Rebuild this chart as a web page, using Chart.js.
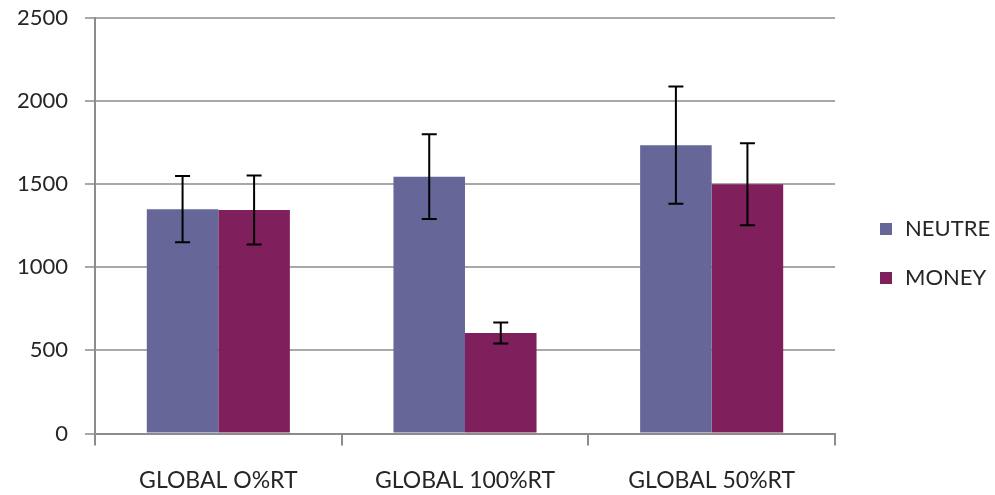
<!DOCTYPE html>
<html>
<head>
<meta charset="utf-8">
<script src="https://cdn.jsdelivr.net/npm/chart.js@4/dist/chart.umd.min.js"></script>
<style>
  body { margin: 0; background: #fff; }
  #wrap { position: relative; width: 995px; height: 495px; }
  #legend { position: absolute; left: 880px; top: 216px; font-family: Lato, "Open Sans", sans-serif; font-size: 22px; line-height: 24px; color: #262626; }
  #legend div { height: 49px; white-space: nowrap; }
  #legend span.sw { display: inline-block; width: 12px; height: 12px; margin-right: 13px; vertical-align: 1px; }
</style>
</head>
<body>
<div id="wrap">
  <canvas id="chart" width="995" height="495"></canvas>
  <div id="legend"></div>
</div>
<script>
// categories and series
var categories = ['GLOBAL O%RT', 'GLOBAL 100%RT', 'GLOBAL 50%RT'];
var neutreValues = [1350, 1545, 1735];
var neutreErrors = [200, 255, 353];
var moneyValues = [1345, 605, 1500];
var moneyErrors = [208, 63, 247];
var yTicks = [0, 500, 1000, 1500, 2000, 2500];

var colors = { neutre: '#666699', money: '#7f1f5b' };

// draw error bars from the scale
var errorBars = {
    id: 'errorBars',
    afterDatasetsDraw: function(chart) {
        var ctx = chart.ctx;
        var y = chart.scales.y;
        ctx.save();
        ctx.strokeStyle = '#000';
        ctx.lineWidth = 2;
        chart.data.datasets.forEach(function(ds, i) {
            var meta = chart.getDatasetMeta(i);
            meta.data.forEach(function(bar, j) {
                var v = ds.data[j], e = ds.errors[j];
                var top = y.getPixelForValue(v + e);
                var bot = y.getPixelForValue(v - e);
                var x = bar.x;
                ctx.beginPath();
                ctx.moveTo(x, top); ctx.lineTo(x, bot);
                ctx.moveTo(x - 7.5, top); ctx.lineTo(x + 7.5, top);
                ctx.moveTo(x - 7.5, bot); ctx.lineTo(x + 7.5, bot);
                ctx.stroke();
            });
        });
        ctx.restore();
    }
};

var ctx = document.getElementById('chart').getContext('2d');
var chart = new Chart(ctx, {
    type: 'bar',
    data: {
        labels: categories,
        datasets: [{
            label: 'NEUTRE',
            data: neutreValues,
            errors: neutreErrors,
            backgroundColor: colors.neutre
        }, {
            label: 'MONEY',
            data: moneyValues,
            errors: moneyErrors,
            backgroundColor: colors.money
        }]
    },
    options: {
        responsive: false,
        animation: false,
        devicePixelRatio: 1,
        categoryPercentage: 0.58,
        barPercentage: 1,
        layout: { padding: { left: 0, right: 160, top: 18, bottom: 0 } },
        plugins: {
            legend: { display: false },
            tooltip: { enabled: false }
        },
        scales: {
            x: {
                grid: { drawOnChartArea: false, drawTicks: true, tickLength: 12, color: '#8c8c8c', lineWidth: 2 },
                border: { color: '#8c8c8c', width: 2 },
                ticks: { padding: 21, color: '#262626', maxRotation: 0, font: { family: 'Lato', size: 23 } },
                afterFit: function(scale) { scale.height = 61.5; }
            },
            y: {
                min: 0,
                max: 2500,
                afterBuildTicks: function(scale) {
                    scale.ticks = yTicks.map(function(v) { return { value: v }; });
                },
                grid: { color: '#a8a8a8', lineWidth: 2, tickLength: 10 },
                border: { color: '#8c8c8c', width: 2 },
                ticks: {
                    padding: 17, color: '#262626', font: { family: 'Lato', size: 22 },
                    callback: function(v) { return String(v); }
                },
                afterFit: function(scale) {
                    scale.width = 95;
                    // the tick padding should not push the plot down
                    scale.paddingTop = 0;
                    scale.paddingBottom = 0;
                }
            }
        }
    },
    plugins: [errorBars]
});

// legend as html
var legendEl = document.getElementById('legend');
chart.data.datasets.forEach(function(ds) {
    var row = document.createElement('div');
    row.innerHTML = '<span class="sw" style="background:' + ds.backgroundColor + '"></span>' + ds.label;
    legendEl.appendChild(row);
});
</script>
</body>
</html>
